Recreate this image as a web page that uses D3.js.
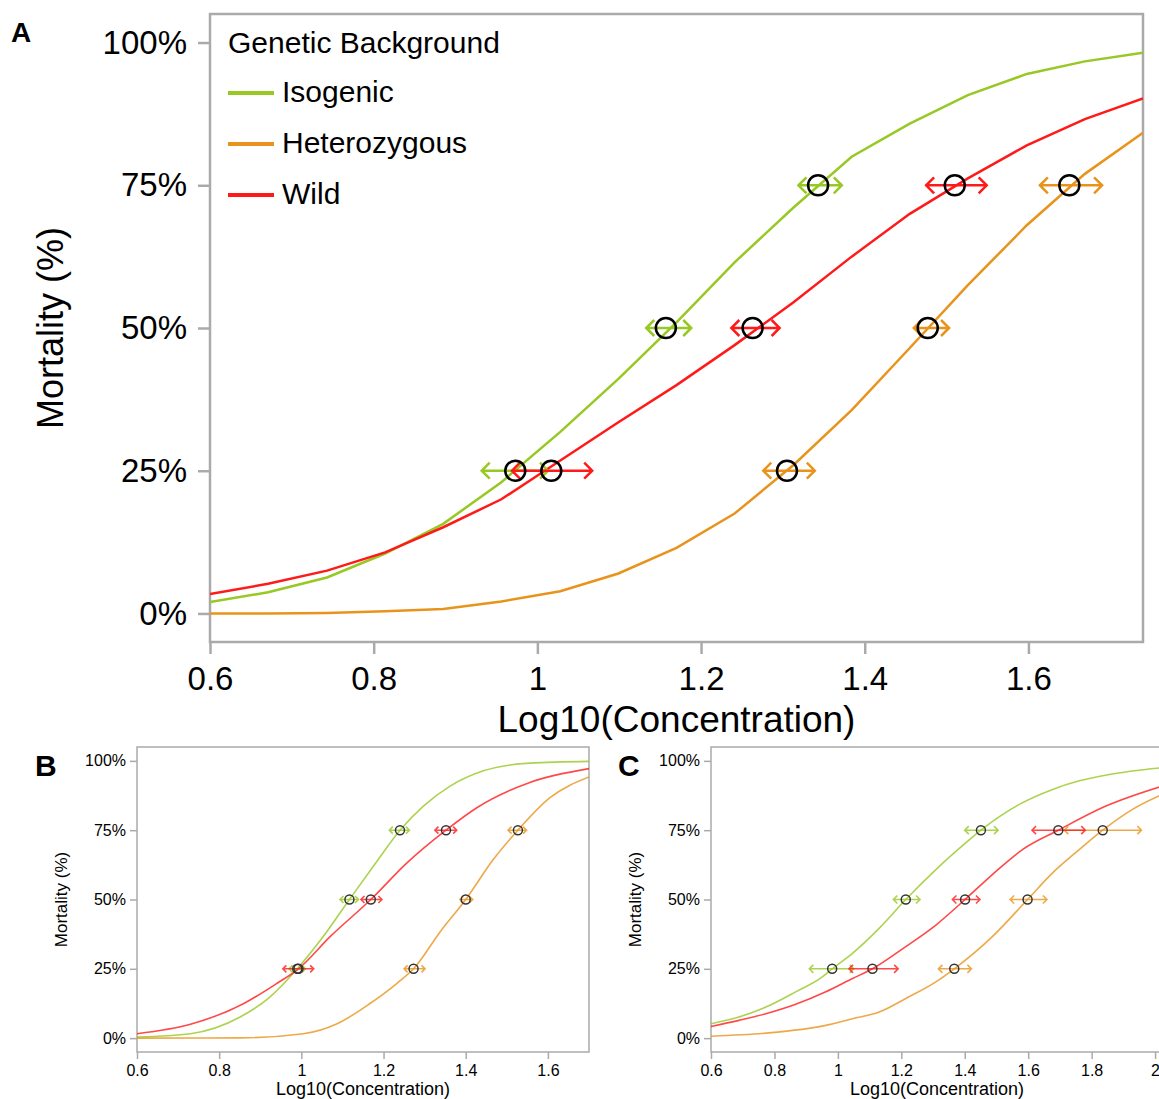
<!DOCTYPE html>
<html>
<head>
<meta charset="utf-8">
<script src="https://cdn.jsdelivr.net/npm/d3@7"></script>
<style>
	body { margin: 0; background: #fff; }
	svg { display: block; font-family: "Liberation Sans", Arial, Helvetica, sans-serif; }
</style>
</head>
<body>
<svg id="chart" width="1159" height="1099"></svg>
<script>
/***********************************************************
  Start: Data
***********************************************************/
var seriesNames = ['Isogenic', 'Heterozygous', 'Wild'];
var levels = [0.25, 0.5, 0.75];
var yTicks = [0, 0.25, 0.5, 0.75, 1];
var xTicksAB = [0.6, 0.8, 1, 1.2, 1.4, 1.6];
var xTicksC = [0.6, 0.8, 1, 1.2, 1.4, 1.6, 1.8, 2];

// Panel A
var concA = [0.6, 0.671, 0.743, 0.814, 0.885, 0.956, 1.028, 1.099, 1.17, 1.241, 1.313, 1.384, 1.455, 1.526, 1.598, 1.669, 1.74];
var isoA  = [0.020, 0.037, 0.063, 0.105, 0.157, 0.230, 0.318, 0.411, 0.510, 0.615, 0.711, 0.800, 0.858, 0.908, 0.945, 0.967, 0.982];
var hetA  = [0.000, 0.000, 0.001, 0.004, 0.008, 0.021, 0.039, 0.070, 0.115, 0.175, 0.260, 0.356, 0.465, 0.575, 0.680, 0.770, 0.842];
var wildA = [0.034, 0.052, 0.075, 0.107, 0.151, 0.200, 0.268, 0.335, 0.400, 0.470, 0.545, 0.625, 0.700, 0.762, 0.820, 0.866, 0.902];
var lcIsoA = [0.973, 1.157, 1.343];
var ciIsoA = [[0.932, 1.013], [1.133, 1.188], [1.319, 1.372]];
var lcHetA = [1.305, 1.477, 1.65];
var ciHetA = [[1.276, 1.339], [1.46, 1.503], [1.614, 1.69]];
var lcWildA = [1.017, 1.263, 1.51];
var ciWildA = [[0.969, 1.067], [1.237, 1.296], [1.475, 1.549]];

// Panel B
var isoBx  = [0.6, 0.73, 0.851, 0.924, 0.99, 1.05, 1.117, 1.18, 1.24, 1.297, 1.362, 1.443, 1.556, 1.7];
var isoBy  = [0.004, 0.016, 0.076, 0.149, 0.25, 0.36, 0.5, 0.63, 0.75, 0.837, 0.909, 0.964, 0.992, 0.998];
var hetBx  = [0.6, 0.85, 1.005, 1.087, 1.167, 1.232, 1.273, 1.338, 1.4, 1.467, 1.527, 1.605, 1.7];
var hetBy  = [0, 0.001, 0.016, 0.052, 0.125, 0.197, 0.25, 0.384, 0.5, 0.644, 0.75, 0.867, 0.942];
var wildBx = [0.6, 0.73, 0.86, 0.94, 0.993, 1.07, 1.169, 1.257, 1.352, 1.427, 1.556, 1.7];
var wildBy = [0.016, 0.05, 0.125, 0.197, 0.25, 0.366, 0.5, 0.632, 0.75, 0.831, 0.922, 0.972];
var lcIsoB = [0.99, 1.117, 1.24];
var ciIsoB = [[0.97, 1.01], [1.094, 1.139], [1.214, 1.263]];
var lcHetB = [1.273, 1.4, 1.527];
var ciHetB = [[1.25, 1.301], [1.386, 1.417], [1.503, 1.548]];
var lcWildB = [0.993, 1.169, 1.352];
var ciWildB = [[0.955, 1.03], [1.145, 1.196], [1.325, 1.378]];

// Panel C
var isoCx  = [0.6, 0.688, 0.773, 0.867, 0.951, 0.982, 1.046, 1.13, 1.214, 1.309, 1.403, 1.451, 1.572, 1.677, 1.761, 1.856, 2.025];
var isoCy  = [0.052, 0.076, 0.112, 0.167, 0.221, 0.25, 0.306, 0.396, 0.5, 0.608, 0.704, 0.75, 0.843, 0.897, 0.928, 0.951, 0.976];
var hetCx  = [0.6, 0.773, 0.962, 1.046, 1.13, 1.214, 1.309, 1.367, 1.487, 1.598, 1.677, 1.761, 1.835, 1.929, 2.025];
var hetCy  = [0.007, 0.018, 0.046, 0.07, 0.094, 0.143, 0.203, 0.25, 0.366, 0.5, 0.596, 0.68, 0.75, 0.825, 0.88];
var wildCx = [0.6, 0.688, 0.773, 0.867, 0.962, 1.046, 1.109, 1.214, 1.309, 1.401, 1.487, 1.582, 1.695, 1.845, 2.025];
var wildCy = [0.042, 0.064, 0.088, 0.122, 0.167, 0.215, 0.25, 0.33, 0.408, 0.5, 0.59, 0.68, 0.75, 0.837, 0.91];
var lcIsoC = [0.982, 1.214, 1.451];
var ciIsoC = [[0.91, 1.05], [1.175, 1.259], [1.4, 1.505]];
var lcHetC = [1.367, 1.598, 1.835];
var ciHetC = [[1.317, 1.421], [1.543, 1.659], [1.714, 1.957]];
var lcWildC = [1.109, 1.401, 1.695];
var ciWildC = [[1.035, 1.19], [1.361, 1.448], [1.612, 1.78]];
/***********************************************************
  End: Data
***********************************************************/

var colors = ['#97c823', '#e8941c', '#ff1a1a'];
var svg = d3.select('#chart');

function zipPts(xs, ys) {
	return xs.map(function(v, i) { return [v, ys[i]]; });
}

function drawPanel(p) {
	var x = d3.scaleLinear().domain(p.xDomain).range([p.left, p.right]);
	var y = d3.scaleLinear().domain([-0.05, 1.05]).range([p.bottom, p.top]);
	var g = svg.append('g');

	// clip for curves
	g.append('clipPath').attr('id', 'clip' + p.label)
		.append('rect')
		.attr('x', p.left).attr('y', p.top)
		.attr('width', p.right - p.left).attr('height', p.bottom - p.top);

	// Axes
	var xa = g.append('g')
		.attr('transform', 'translate(0,' + p.bottom + ')')
		.call(d3.axisBottom(x).tickValues(p.xTicks).tickFormat(d3.format('~g'))
			.tickSize(p.tick).tickSizeOuter(0).tickPadding(p.xPad));
	var ya = g.append('g')
		.attr('transform', 'translate(' + p.left + ',0)')
		.call(d3.axisLeft(y).tickValues(yTicks).tickFormat(d3.format('.0%'))
			.tickSize(p.tick).tickSizeOuter(0).tickPadding(p.yPad));
	[xa, ya].forEach(function(a) {
		a.select('.domain').remove();
		a.selectAll('line').attr('stroke', '#aaa').attr('stroke-width', p.frameW);
		a.selectAll('text').attr('fill', '#000').style('font-size', p.tickFont + 'px')
			.style('font-family', '"Liberation Sans", Arial, sans-serif');
	});

	// Frame
	g.append('rect')
		.attr('x', p.left).attr('y', p.top)
		.attr('width', p.right - p.left).attr('height', p.bottom - p.top)
		.attr('fill', 'none').attr('stroke', '#aaa').attr('stroke-width', p.frameW);

	// Axis titles
	g.append('text')
		.text('Log10(Concentration)')
		.attr('x', (p.left + p.right) / 2).attr('y', p.xTitleY)
		.style('text-anchor', 'middle').style('font-size', p.xTitleFont + 'px');
	g.append('text')
		.text('Mortality (%)')
		.style('text-anchor', 'middle').style('font-size', p.yTitleFont + 'px')
		.attr('transform', 'translate(' + p.yTitleX + ',' + ((p.top + p.bottom) / 2) + '), rotate(-90)');

	// Panel letter
	g.append('text')
		.text(p.label)
		.attr('x', p.labelX).attr('y', p.labelY)
		.style('font-weight', 'bold').style('font-size', p.labelFont + 'px');

	var line = d3.line()
		.x(function(d) { return x(d[0]); })
		.y(function(d) { return y(d[1]); })
		.curve(p.curve);

	// Curves
	p.series.forEach(function(s, i) {
		g.append('path')
			.datum(zipPts(s.xs, s.ys))
			.attr('clip-path', 'url(#clip' + p.label + ')')
			.attr('d', line)
			.attr('fill', 'none')
			.attr('stroke', colors[i])
			.attr('stroke-opacity', p.opacity)
			.attr('stroke-width', p.lineW);
	});

	// Confidence arrows
	p.series.forEach(function(s, i) {
		s.ci.forEach(function(c, k) {
			var x0 = x(c[0]), x1 = x(c[1]), yy = y(levels[k]), a = p.head;
			g.append('path')
				.attr('d', 'M' + x0 + ',' + yy + 'L' + x1 + ',' + yy +
					'M' + (x0 + a) + ',' + (yy - a) + 'L' + x0 + ',' + yy + 'L' + (x0 + a) + ',' + (yy + a) +
					'M' + (x1 - a) + ',' + (yy - a) + 'L' + x1 + ',' + yy + 'L' + (x1 - a) + ',' + (yy + a))
				.attr('fill', 'none')
				.attr('stroke', colors[i])
				.attr('stroke-opacity', p.opacity)
				.attr('stroke-width', p.lineW);
		});
	});

	// LC points
	p.series.forEach(function(s) {
		s.lc.forEach(function(v, k) {
			g.append('circle')
				.attr('cx', x(v)).attr('cy', y(levels[k]))
				.attr('r', p.r)
				.attr('fill', 'none')
				.attr('stroke', p.circleColor)
				.attr('stroke-width', p.circleW);
		});
	});
}

drawPanel({
	label: 'A', left: 210, right: 1143, top: 14, bottom: 642,
	xDomain: [0.6, 1.74], xTicks: xTicksAB,
	tick: 12, xPad: 13, yPad: 11, tickFont: 33, frameW: 2.5,
	xTitleY: 732, xTitleFont: 37, yTitleX: 63, yTitleFont: 36,
	labelX: 11, labelY: 42, labelFont: 28,
	curve: d3.curveLinear, lineW: 2.5, opacity: 1, head: 8,
	r: 10, circleW: 2.5, circleColor: '#000',
	series: [
		{ xs: concA, ys: isoA, lc: lcIsoA, ci: ciIsoA },
		{ xs: concA, ys: hetA, lc: lcHetA, ci: ciHetA },
		{ xs: concA, ys: wildA, lc: lcWildA, ci: ciWildA }
	]
});

drawPanel({
	label: 'B', left: 137, right: 589, top: 747, bottom: 1052,
	xDomain: [0.6, 1.7], xTicks: xTicksAB,
	tick: 7, xPad: 6, yPad: 4, tickFont: 16, frameW: 1.5,
	xTitleY: 1095, xTitleFont: 18, yTitleX: 67, yTitleFont: 17,
	labelX: 35, labelY: 776, labelFont: 30,
	curve: d3.curveMonotoneX, lineW: 1.6, opacity: 0.8, head: 3.5,
	r: 4.5, circleW: 1.5, circleColor: '#333',
	series: [
		{ xs: isoBx, ys: isoBy, lc: lcIsoB, ci: ciIsoB },
		{ xs: hetBx, ys: hetBy, lc: lcHetB, ci: ciHetB },
		{ xs: wildBx, ys: wildBy, lc: lcWildB, ci: ciWildB }
	]
});

drawPanel({
	label: 'C', left: 711, right: 1163, top: 747, bottom: 1052,
	xDomain: [0.6, 2.025], xTicks: xTicksC,
	tick: 7, xPad: 6, yPad: 4, tickFont: 16, frameW: 1.5,
	xTitleY: 1095, xTitleFont: 18, yTitleX: 641, yTitleFont: 17,
	labelX: 618, labelY: 776, labelFont: 30,
	curve: d3.curveMonotoneX, lineW: 1.6, opacity: 0.8, head: 4,
	r: 4.5, circleW: 1.5, circleColor: '#333',
	series: [
		{ xs: isoCx, ys: isoCy, lc: lcIsoC, ci: ciIsoC },
		{ xs: hetCx, ys: hetCy, lc: lcHetC, ci: ciHetC },
		{ xs: wildCx, ys: wildCy, lc: lcWildC, ci: ciWildC }
	]
});

/***********************************************************
  Start: Legend (panel A)
***********************************************************/
var legend = svg.append('g');
legend.append('text')
	.text('Genetic Background')
	.attr('x', 228).attr('y', 53)
	.style('font-size', '30px');
seriesNames.forEach(function(name, i) {
	var ly = 93 + i * 51;
	legend.append('line')
		.attr('x1', 228).attr('x2', 274)
		.attr('y1', ly).attr('y2', ly)
		.attr('stroke', colors[i]).attr('stroke-width', 4);
	legend.append('text')
		.text(name)
		.attr('x', 282).attr('y', ly + 9)
		.style('font-size', '30px');
});
/***********************************************************
  End: Legend
***********************************************************/
</script>
</body>
</html>
